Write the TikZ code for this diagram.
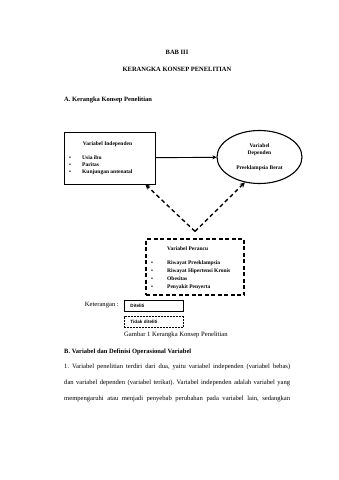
\documentclass[tikz,border=0pt]{standalone}
\usepackage{fontspec}
\setmainfont{Liberation Serif}
\setsansfont{Liberation Sans}
\usetikzlibrary{arrows.meta, calc, shapes.geometric, positioning}
\frenchspacing

\begin{document}
\begin{tikzpicture}[
    x=1pt, y=-1pt,
    heading/.style   = {font=\fontsize{6.5}{8}\selectfont\bfseries, inner sep=0pt},
    bodytext/.style  = {font=\fontsize{6.6}{8}\selectfont, inner sep=0pt, anchor=west},
    solidbox/.style  = {draw, line width=0.9pt, minimum width=91pt, minimum height=52pt},
    dashbox/.style   = {draw, line width=1.2pt, dash pattern=on 4pt off 2.5pt,
                        minimum width=98pt, minimum height=56pt},
    boxtitle/.style  = {font=\fontsize{5.5}{7}\selectfont\bfseries, inner sep=0pt},
    boxlist/.style   = {font=\fontsize{5.5}{7}\selectfont\bfseries, inner sep=0pt,
                        anchor=north west, align=left},
    arrow/.style     = {-{Stealth[length=4pt, width=4pt]}, line width=0.9pt},
    dasharrow/.style = {-{Stealth[length=5pt, width=5pt]}, line width=1.4pt,
                        dash pattern=on 4pt off 3pt},
    legendbox/.style = {draw, line width=0.9pt, text width=47pt, inner xsep=6pt,
                        minimum height=11pt, align=left, anchor=west,
                        font=\sffamily\bfseries\fontsize{4.6}{5}\selectfont},
  ]
  \useasboundingbox (0,0) rectangle (339,480);

  % page headings
  \node[heading] (bab) at (177,52) {BAB III};
  \node[heading] (judul) at (177,69) {KERANGKA KONSEP PENELITIAN};
  \node[heading, anchor=west] (subA) at (64,100) {A. Kerangka Konsep Penelitian};

  % independent variables
  \node[solidbox] (indep) at (109.5,158) {};
  \node[boxtitle] (indeptitle) at (107.5,144) {Variabel Independen};
  \node[boxlist] (indeplist) at (69,155.5)
    {\makebox[13pt][l]{\textbullet}Usia ibu\\
     \makebox[13pt][l]{\textbullet}Paritas\\
     \makebox[13pt][l]{\textbullet}Kunjungan antenatal};

  % dependent variable
  \node[draw, ellipse, line width=1.1pt, minimum width=85pt, minimum height=53pt,
        align=center, font=\fontsize{5.5}{7}\selectfont\bfseries]
    (dep) at (259.5,157) {Variabel\\Dependen\\[8pt]Preeklampsia Berat};

  % confounding variables
  \node[dashbox] (perancu) at (195,267) {};
  \node[boxtitle, anchor=west] (perancutitle) at (167,249) {Variabel Perancu};
  \node[boxlist, font=\fontsize{5.5}{8}\selectfont\bfseries] (peranculist) at (151,260.5)
    {\makebox[16pt][l]{\textbullet}Riwayat Preeklampsia\\
     \makebox[16pt][l]{\textbullet}Riwayat Hipertensi Kronis\\
     \makebox[16pt][l]{\textbullet}Obesitas\\
     \makebox[16pt][l]{\textbullet}Penyakit Penyerta};
  \coordinate (apex) at ($(perancu.north)+(0,-7)$);

  \draw[arrow] (indep) -- (dep);
  \draw[dasharrow] (apex) -- ($(indep.south east)+(-10,0)$);
  \draw[dasharrow] (apex) -- (dep.240);

  % legend
  \node[bodytext, anchor=east] (ket) at (119,305.5) {Keterangan :};
  \node[legendbox] (diteliti) at (124,305.5) {Diteliti};
  \node[legendbox, dash pattern=on 2pt off 1pt] (tidak) at (124,322) {Tidak diteliti};
  \node[bodytext] (gambar) at (124,335) {Gambar 1 Kerangka Konsep Penelitian};

  % section B
  \node[heading, anchor=west] (subB) at (64,352) {B. Variabel dan Definisi Operasional Variabel};
  \node[bodytext] (line1) at (64,367)
    {\makebox[226pt][s]{1. Variabel penelitian terdiri dari dua, yaitu variabel independen (variabel bebas)}};
  \node[bodytext] (line2) at (64,383)
    {\makebox[226pt][s]{dan variabel dependen (variabel terikat). Variabel independen adalah variabel yang}};
  \node[bodytext] (line3) at (64,399)
    {\makebox[226pt][s]{mempengaruhi atau menjadi penyebab perubahan pada variabel lain, sedangkan}};
\end{tikzpicture}
\end{document}
